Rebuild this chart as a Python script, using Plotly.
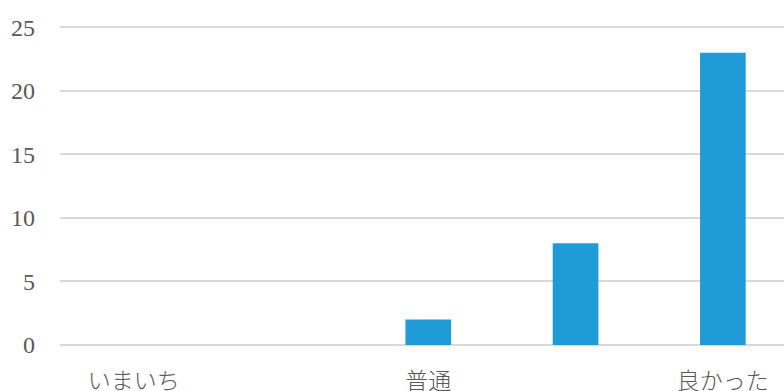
import plotly.graph_objects as go

categories = ["いまいち", "やや不満", "普通", "やや満足", "良かった"]
counts = [0, 0, 2, 8, 23]
shown_labels = ["いまいち", "普通", "良かった"]
y_ticks = [0, 5, 10, 15, 20, 25]

fig = go.Figure(go.Bar(x=categories, y=counts, marker=dict(color="#1F9BD8", line=dict(width=0))))

fig.update_layout(
    width=784, height=391,
    margin=dict(l=60, r=0, t=26, b=46, autoexpand=False),
    paper_bgcolor="white", plot_bgcolor="white",
    bargap=0.69,
    showlegend=False,
)
fig.update_xaxes(
    type="category",
    range=[-0.5, 4.415],
    tickvals=shown_labels, ticktext=shown_labels,
    showgrid=False, showline=False, ticks="",
    tickfont=dict(family="Noto Sans CJK JP", size=23, color="#595959", weight=300),
    ticklabelstandoff=20,
    automargin=False,
)
fig.update_yaxes(
    range=[0, 25.1], tickvals=y_ticks,
    showgrid=True, gridcolor="#D9D9D9", gridwidth=1.5,
    zeroline=True, zerolinecolor="#D9D9D9", zerolinewidth=1.5,
    showline=False, ticks="",
    tickfont=dict(family="Liberation Serif", size=24, color="#595959"),
    ticklabelstandoff=24,
    automargin=False,
)

fig.write_html(
    "out.html",
    config={"displayModeBar": False},
    post_script="document.body.style.margin='0';document.body.style.overflow='hidden';",
)
